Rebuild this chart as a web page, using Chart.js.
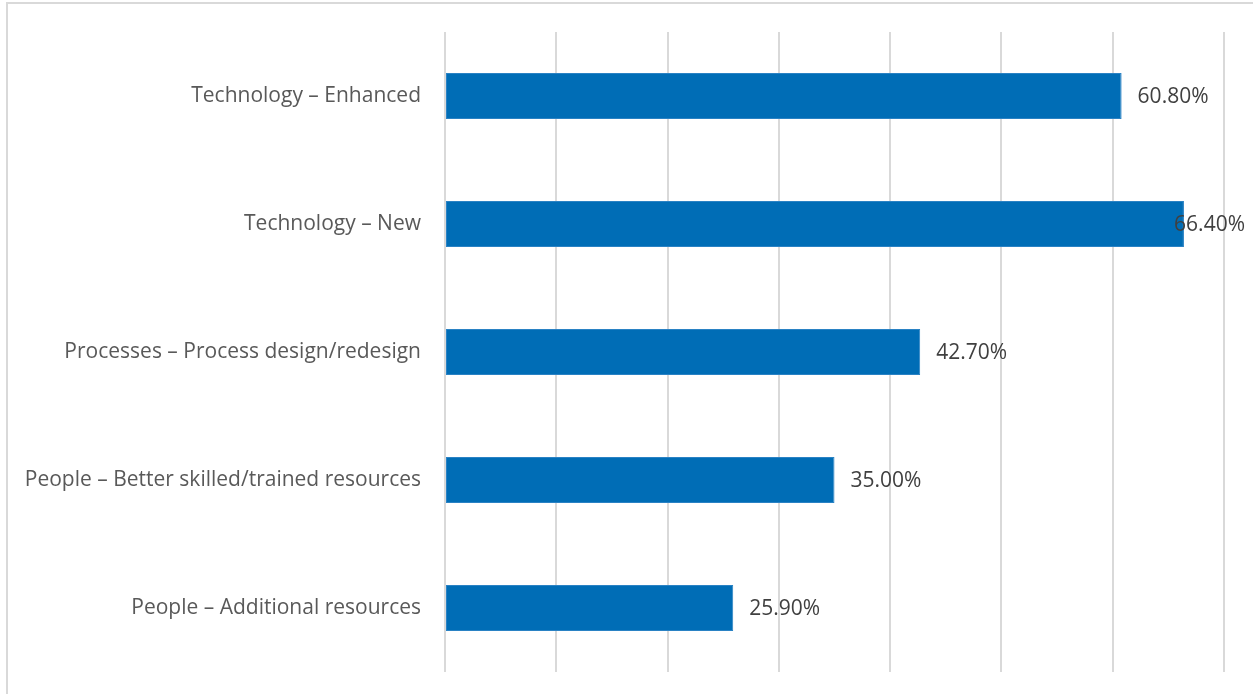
<!DOCTYPE html>
<html>
<head>
<meta charset="utf-8">
<script src="https://cdn.jsdelivr.net/npm/chart.js@4/dist/chart.umd.min.js"></script>
<style>
  html, body { margin: 0; padding: 0; background: #ffffff; overflow: hidden; }
  #frame {
    position: absolute; left: 6px; top: 2px; width: 1260px; height: 710px;
    border: 2px solid #d9d9d9; box-sizing: border-box;
  }
  #wrap { position: absolute; left: 0; top: 0; width: 1253px; height: 694px; }
</style>
</head>
<body>
<div id="frame"></div>
<div id="wrap"><canvas id="chart" width="1253" height="694"></canvas></div>
<script>
// Categories, top to bottom
const categories = [
  "Technology \u2013 Enhanced",
  "Technology \u2013 New",
  "Processes \u2013 Process design/redesign",
  "People \u2013 Better skilled/trained resources",
  "People \u2013 Additional resources"
];
// Share of respondents (%)
const values = [60.8, 66.4, 42.7, 35.0, 25.9];
// Value axis range and grid spacing
const axisMin = 0;
const axisMax = 70;
const axisStep = 10;

const FONT = "'Open Sans', 'Noto Sans', sans-serif";
const TEXT = "#595959";
const FONT_SIZE = 21;

// Writes each bar's value just past its end, kept inside the canvas
const valueLabels = {
  id: "valueLabels",
  afterDatasetsDraw(chart) {
    const ctx = chart.ctx;
    const meta = chart.getDatasetMeta(0);
    ctx.save();
    ctx.font = FONT_SIZE + "px " + FONT;
    ctx.fillStyle = "#404040";
    ctx.textBaseline = "middle";
    ctx.textAlign = "left";
    meta.data.forEach((bar, i) => {
      const txt = values[i].toFixed(2) + "%";
      const w = ctx.measureText(txt).width;
      let x = bar.x + 16;
      const limit = chart.width - 8;
      if (x + w > limit) x = limit - w;
      ctx.fillText(txt, x, bar.y + 1);
    });
    ctx.restore();
  }
};

new Chart(document.getElementById("chart"), {
  type: "bar",
  data: {
    labels: categories,
    datasets: [{
      data: values,
      backgroundColor: "#006db6",
      borderColor: "#2a82c4",
      borderWidth: 1,
      borderSkipped: false,
      barPercentage: 0.715,
      categoryPercentage: 0.503
    }]
  },
  options: {
    indexAxis: "y",
    responsive: false,
    animation: false,
    layout: { padding: { top: 32, bottom: 22, right: 29, left: 0 } },
    plugins: {
      legend: { display: false },
      tooltip: { enabled: false }
    },
    scales: {
      x: {
        min: axisMin,
        max: axisMax,
        ticks: { stepSize: axisStep, display: false, padding: 0 },
        grid: { color: "#d9d9d9", lineWidth: 2, drawTicks: false },
        border: { display: false },
        afterFit(scale) {
          scale.height = 0;
          scale.paddingLeft = 0; scale.paddingRight = 0;
          scale.paddingTop = 0; scale.paddingBottom = 0;
        }
      },
      y: {
        grid: { display: false, drawTicks: false },
        border: { display: false },
        ticks: {
          color: TEXT,
          font: { family: FONT, size: FONT_SIZE },
          padding: 24
        },
        afterFit(scale) {
          scale.width = 445;
          scale.paddingTop = 0; scale.paddingBottom = 0;
        }
      }
    }
  },
  plugins: [valueLabels]
});
</script>
</body>
</html>
